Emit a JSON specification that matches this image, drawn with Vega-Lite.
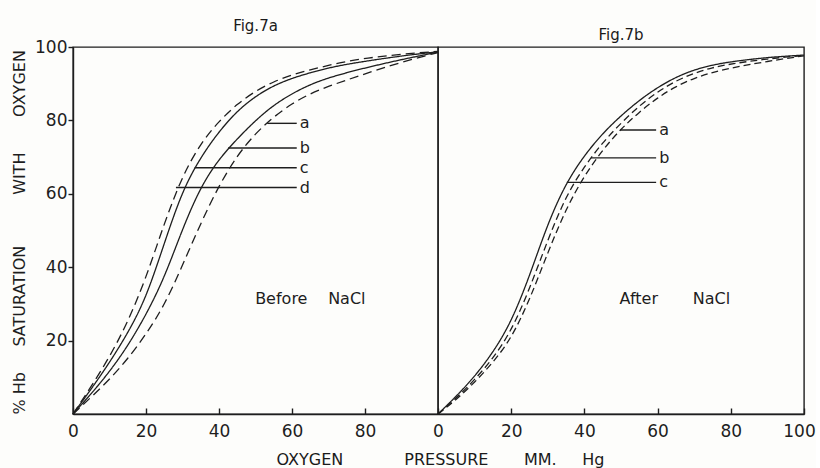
{
  "$schema": "https://vega.github.io/schema/vega-lite/v6.json",
  "background": "#fdfdfb",
  "padding": {"left": 10, "top": 18, "right": 0, "bottom": 0},
  "spacing": 0,
  "bounds": "flush",
  "resolve": {"scale": {"strokeDash": "independent", "x": "independent", "y": "independent"}},
  "datasets": {
    "left": [
      {"curve": "d", "p": 0, "s": 0}, {"curve": "d", "p": 5, "s": 7.5}, {"curve": "d", "p": 10, "s": 15.5}, {"curve": "d", "p": 15, "s": 25}, {"curve": "d", "p": 20, "s": 37}, {"curve": "d", "p": 25, "s": 52}, {"curve": "d", "p": 30, "s": 65}, {"curve": "d", "p": 35, "s": 73.8}, {"curve": "d", "p": 40, "s": 79.8}, {"curve": "d", "p": 45, "s": 84.5}, {"curve": "d", "p": 50, "s": 88}, {"curve": "d", "p": 55, "s": 90.6}, {"curve": "d", "p": 60, "s": 92.4}, {"curve": "d", "p": 65, "s": 93.8}, {"curve": "d", "p": 70, "s": 95}, {"curve": "d", "p": 75, "s": 96.1}, {"curve": "d", "p": 80, "s": 96.9}, {"curve": "d", "p": 90, "s": 98.1}, {"curve": "d", "p": 100, "s": 98.8},
      {"curve": "c", "p": 0, "s": 0}, {"curve": "c", "p": 5, "s": 6.8}, {"curve": "c", "p": 10, "s": 14}, {"curve": "c", "p": 15, "s": 22}, {"curve": "c", "p": 20, "s": 31.5}, {"curve": "c", "p": 25, "s": 46.5}, {"curve": "c", "p": 30, "s": 61}, {"curve": "c", "p": 35, "s": 70}, {"curve": "c", "p": 40, "s": 77}, {"curve": "c", "p": 45, "s": 82.6}, {"curve": "c", "p": 50, "s": 86.6}, {"curve": "c", "p": 55, "s": 89.5}, {"curve": "c", "p": 60, "s": 91.5}, {"curve": "c", "p": 65, "s": 93}, {"curve": "c", "p": 70, "s": 94.3}, {"curve": "c", "p": 75, "s": 95.3}, {"curve": "c", "p": 80, "s": 96.1}, {"curve": "c", "p": 90, "s": 97.6}, {"curve": "c", "p": 100, "s": 98.7},
      {"curve": "b", "p": 0, "s": 0}, {"curve": "b", "p": 5, "s": 5.5}, {"curve": "b", "p": 10, "s": 11.5}, {"curve": "b", "p": 15, "s": 18.5}, {"curve": "b", "p": 20, "s": 27}, {"curve": "b", "p": 25, "s": 37}, {"curve": "b", "p": 30, "s": 50.5}, {"curve": "b", "p": 35, "s": 62}, {"curve": "b", "p": 40, "s": 69.5}, {"curve": "b", "p": 45, "s": 75}, {"curve": "b", "p": 50, "s": 80}, {"curve": "b", "p": 55, "s": 84.2}, {"curve": "b", "p": 60, "s": 87.3}, {"curve": "b", "p": 65, "s": 89.8}, {"curve": "b", "p": 70, "s": 91.6}, {"curve": "b", "p": 75, "s": 93}, {"curve": "b", "p": 80, "s": 94.3}, {"curve": "b", "p": 90, "s": 96.6}, {"curve": "b", "p": 100, "s": 98.6},
      {"curve": "a", "p": 0, "s": 0}, {"curve": "a", "p": 5, "s": 4.6}, {"curve": "a", "p": 10, "s": 9.4}, {"curve": "a", "p": 15, "s": 15}, {"curve": "a", "p": 20, "s": 21.7}, {"curve": "a", "p": 25, "s": 29.5}, {"curve": "a", "p": 30, "s": 40.5}, {"curve": "a", "p": 35, "s": 52}, {"curve": "a", "p": 40, "s": 62.3}, {"curve": "a", "p": 45, "s": 70.5}, {"curve": "a", "p": 50, "s": 76.5}, {"curve": "a", "p": 55, "s": 81}, {"curve": "a", "p": 60, "s": 84.6}, {"curve": "a", "p": 65, "s": 87.3}, {"curve": "a", "p": 70, "s": 89.3}, {"curve": "a", "p": 75, "s": 91}, {"curve": "a", "p": 80, "s": 92.7}, {"curve": "a", "p": 90, "s": 95.9}, {"curve": "a", "p": 100, "s": 98.5}
    ],
    "right": [
      {"curve": "c", "p": 0, "s": 0}, {"curve": "c", "p": 5, "s": 4.8}, {"curve": "c", "p": 10, "s": 10.2}, {"curve": "c", "p": 15, "s": 16.7}, {"curve": "c", "p": 20, "s": 25}, {"curve": "c", "p": 25, "s": 37.5}, {"curve": "c", "p": 30, "s": 52}, {"curve": "c", "p": 35, "s": 63}, {"curve": "c", "p": 40, "s": 70.5}, {"curve": "c", "p": 45, "s": 76.5}, {"curve": "c", "p": 50, "s": 81.3}, {"curve": "c", "p": 55, "s": 85.5}, {"curve": "c", "p": 60, "s": 89}, {"curve": "c", "p": 65, "s": 91.8}, {"curve": "c", "p": 70, "s": 93.8}, {"curve": "c", "p": 75, "s": 95.1}, {"curve": "c", "p": 80, "s": 96}, {"curve": "c", "p": 90, "s": 97.2}, {"curve": "c", "p": 100, "s": 97.8},
      {"curve": "b", "p": 0, "s": 0}, {"curve": "b", "p": 5, "s": 4.3}, {"curve": "b", "p": 10, "s": 9.3}, {"curve": "b", "p": 15, "s": 15.1}, {"curve": "b", "p": 20, "s": 22.5}, {"curve": "b", "p": 25, "s": 34}, {"curve": "b", "p": 30, "s": 47.5}, {"curve": "b", "p": 35, "s": 59.5}, {"curve": "b", "p": 40, "s": 67.5}, {"curve": "b", "p": 45, "s": 74}, {"curve": "b", "p": 50, "s": 79.3}, {"curve": "b", "p": 55, "s": 84}, {"curve": "b", "p": 60, "s": 87.8}, {"curve": "b", "p": 65, "s": 90.8}, {"curve": "b", "p": 70, "s": 92.9}, {"curve": "b", "p": 75, "s": 94.4}, {"curve": "b", "p": 80, "s": 95.4}, {"curve": "b", "p": 90, "s": 96.8}, {"curve": "b", "p": 100, "s": 97.7},
      {"curve": "a", "p": 0, "s": 0}, {"curve": "a", "p": 5, "s": 3.9}, {"curve": "a", "p": 10, "s": 8.6}, {"curve": "a", "p": 15, "s": 14}, {"curve": "a", "p": 20, "s": 20.5}, {"curve": "a", "p": 25, "s": 31}, {"curve": "a", "p": 30, "s": 44}, {"curve": "a", "p": 35, "s": 56}, {"curve": "a", "p": 40, "s": 65}, {"curve": "a", "p": 45, "s": 72}, {"curve": "a", "p": 50, "s": 77.7}, {"curve": "a", "p": 55, "s": 82.3}, {"curve": "a", "p": 60, "s": 86.2}, {"curve": "a", "p": 65, "s": 89.3}, {"curve": "a", "p": 70, "s": 91.5}, {"curve": "a", "p": 75, "s": 93.1}, {"curve": "a", "p": 80, "s": 94.3}, {"curve": "a", "p": 90, "s": 96.1}, {"curve": "a", "p": 100, "s": 97.6}
    ],
    "leftLabels": [
      {"curve": "a", "from": 53.2, "to": 61.3, "s": 79.2},
      {"curve": "b", "from": 42.5, "to": 61.3, "s": 72.5},
      {"curve": "c", "from": 33.3, "to": 61.3, "s": 67.1},
      {"curve": "d", "from": 28.2, "to": 61.3, "s": 61.7}
    ],
    "rightLabels": [
      {"curve": "a", "from": 49.7, "to": 59.6, "s": 77.4},
      {"curve": "b", "from": 41.8, "to": 59.6, "s": 69.8},
      {"curve": "c", "from": 35.2, "to": 59.6, "s": 63.1}
    ],
    "leftNote": [
      {"word": "Before", "p": 49.9, "s": 31.3},
      {"word": "NaCl", "p": 69.9, "s": 31.3}
    ],
    "rightNote": [
      {"word": "After", "p": 49.6, "s": 31.3},
      {"word": "NaCl", "p": 69.6, "s": 31.3}
    ]
  },
  "title": {
    "text": "OXYGEN\u00a0\u00a0\u00a0\u00a0\u00a0\u00a0\u00a0\u00a0\u00a0\u00a0\u00a0\u00a0PRESSURE\u00a0\u00a0\u00a0\u00a0\u00a0\u00a0\u00a0MM.\u00a0\u00a0\u00a0\u00a0\u00a0Hg",
    "orient": "bottom",
    "anchor": "middle",
    "font": "DejaVu Sans",
    "fontSize": 16,
    "fontWeight": "normal",
    "color": "#1a1a1a",
    "offset": 12,
    "dx": 27
  },
  "hconcat": [
    {
      "width": 365,
      "height": 367,
      "title": {"text": "Fig.7a", "font": "DejaVu Sans", "fontSize": 15, "fontWeight": "normal", "color": "#1a1a1a", "offset": 4},
      "layer": [
        {
          "data": {"name": "left"},
          "mark": {"type": "line", "interpolate": "basis", "color": "#1e1e1e", "strokeWidth": 1.3},
          "encoding": {
            "x": {"field": "p", "type": "quantitative", "scale": {"domain": [0, 100], "nice": false},
                  "axis": {"values": [0, 20, 40, 60, 80], "title": null, "tickSize": -6, "labelPadding": 15}},
            "y": {"field": "s", "type": "quantitative", "scale": {"domain": [0, 100], "nice": false},
                  "axis": {"values": [20, 40, 60, 80, 100], "tickSize": 5, "labelPadding": 1,
                           "title": "%\u00a0Hb\u00a0\u00a0\u00a0\u00a0\u00a0SATURATION\u00a0\u00a0\u00a0\u00a0\u00a0\u00a0\u00a0\u00a0\u00a0\u00a0WITH\u00a0\u00a0\u00a0\u00a0\u00a0\u00a0\u00a0OXYGEN",
                           "titleFontSize": 16,
                           "titleAnchor": "start",
                           "titlePadding": 7}},
            "detail": {"field": "curve", "type": "nominal"},
            "strokeDash": {"field": "curve", "type": "nominal",
                           "scale": {"domain": ["a", "b", "c", "d"], "range": [[9, 5], [1, 0], [1, 0], [9, 5]]},
                           "legend": null}
          }
        },
        {
          "data": {"name": "leftLabels"},
          "mark": {"type": "rule", "color": "#1e1e1e", "strokeWidth": 1.4},
          "encoding": {
            "x": {"field": "from", "type": "quantitative"},
            "x2": {"field": "to"},
            "y": {"field": "s", "type": "quantitative"}
          }
        },
        {
          "data": {"name": "leftLabels"},
          "mark": {"type": "text", "align": "left", "baseline": "middle", "dx": 3, "font": "DejaVu Sans", "fontSize": 16, "color": "#1e1e1e"},
          "encoding": {
            "x": {"field": "to", "type": "quantitative"},
            "y": {"field": "s", "type": "quantitative"},
            "text": {"field": "curve"}
          }
        },
        {
          "data": {"name": "leftNote"},
          "mark": {"type": "text", "align": "left", "baseline": "middle", "font": "DejaVu Sans", "fontSize": 16, "color": "#1e1e1e"},
          "encoding": {
            "x": {"field": "p", "type": "quantitative"},
            "y": {"field": "s", "type": "quantitative"},
            "text": {"field": "word"}
          }
        }
      ]
    },
    {
      "width": 366,
      "height": 367,
      "title": {"text": "Fig.7b", "font": "DejaVu Sans", "fontSize": 15, "fontWeight": "normal", "color": "#1a1a1a", "offset": 4},
      "layer": [
        {
          "data": {"name": "right"},
          "mark": {"type": "line", "interpolate": "basis", "color": "#1e1e1e", "strokeWidth": 1.3},
          "encoding": {
            "x": {"field": "p", "type": "quantitative", "scale": {"domain": [0, 100], "nice": false},
                  "axis": {"values": [0, 20, 40, 60, 80, 100], "title": null, "tickSize": -6, "labelPadding": 15,
                           "labelOffset": {"condition": {"test": "datum.value == 100", "value": -5}, "value": 0}}},
            "y": {"field": "s", "type": "quantitative", "scale": {"domain": [0, 100], "nice": false}, "axis": null},
            "detail": {"field": "curve", "type": "nominal"},
            "strokeDash": {"field": "curve", "type": "nominal",
                           "scale": {"domain": ["a", "b", "c"], "range": [[7, 4], [7, 4], [1, 0]]},
                           "legend": null}
          }
        },
        {
          "data": {"name": "rightLabels"},
          "mark": {"type": "rule", "color": "#1e1e1e", "strokeWidth": 1.4},
          "encoding": {
            "x": {"field": "from", "type": "quantitative"},
            "x2": {"field": "to"},
            "y": {"field": "s", "type": "quantitative"}
          }
        },
        {
          "data": {"name": "rightLabels"},
          "mark": {"type": "text", "align": "left", "baseline": "middle", "dx": 3, "font": "DejaVu Sans", "fontSize": 16, "color": "#1e1e1e"},
          "encoding": {
            "x": {"field": "to", "type": "quantitative"},
            "y": {"field": "s", "type": "quantitative"},
            "text": {"field": "curve"}
          }
        },
        {
          "data": {"name": "rightNote"},
          "mark": {"type": "text", "align": "left", "baseline": "middle", "font": "DejaVu Sans", "fontSize": 16, "color": "#1e1e1e"},
          "encoding": {
            "x": {"field": "p", "type": "quantitative"},
            "y": {"field": "s", "type": "quantitative"},
            "text": {"field": "word"}
          }
        }
      ]
    }
  ],
  "config": {
    "view": {"stroke": "#1e1e1e", "strokeWidth": 1.4},
    "axis": {
      "grid": false,
      "labelFlush": false,
      "domainColor": "#1e1e1e",
      "domainWidth": 1.4,
      "tickColor": "#1e1e1e",
      "tickWidth": 1.4,
      "labelFont": "DejaVu Sans",
      "labelFontSize": 17,
      "labelColor": "#1e1e1e",
      "titleFont": "DejaVu Sans",
      "titleFontSize": 15,
      "titleFontWeight": "normal",
      "titleColor": "#1e1e1e"
    }
  }
}
